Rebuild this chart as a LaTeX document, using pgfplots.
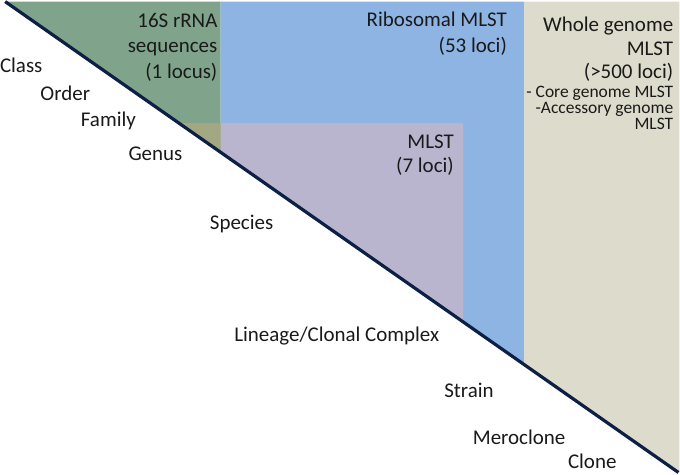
\documentclass[border=0pt]{standalone}
\usepackage{pgfplots}
\pgfplotsset{compat=1.18}
\usepackage{fontspec}
\setmainfont{Carlito}
\definecolor{cgreen}{HTML}{7FA38B}
\definecolor{cblue}{HTML}{8EB4E3}
\definecolor{cpurple}{HTML}{B9B5CF}
\definecolor{cbeige}{HTML}{DDDBCB}
\definecolor{colive}{HTML}{A3A882}
\definecolor{cline}{HTML}{0D1F45}
\definecolor{ctext}{HTML}{1A1A1A}
\tikzset{
  lbl/.style={font=\fontsize{21}{24}\selectfont, text=ctext, inner sep=0pt, text height=0.65em, text depth=0pt},
  sml/.style={font=\fontsize{17.5}{20}\selectfont, text=ctext, inner sep=0pt, text height=0.65em, text depth=0pt},
}
\begin{document}
\begin{tikzpicture}
\begin{axis}[
  width=680bp, height=477bp, scale only axis,
  xmin=0, xmax=680, ymin=0, ymax=477, y dir=reverse,
  hide axis, clip=false,
]
% regions
\addplot[fill=cgreen, draw=none] coordinates {(5,2) (220,2) (220,152.4)} -- cycle;
\addplot[fill=cblue, draw=none] coordinates {(220,2) (523,2) (523,364.3) (220,152.4)} -- cycle;
\addplot[fill=cpurple, draw=none] coordinates {(220,123) (462,123) (462,321.6) (220,152.4)} -- cycle;
\addplot[fill=colive, draw=none] coordinates {(178,123) (220,123) (220,152.4)} -- cycle;
\addplot[fill=cbeige, draw=none] coordinates {(523,2) (678,2) (678,472) (523,364.3)} -- cycle;
% diagonal
\addplot[draw=cline, line width=3.2bp] coordinates {(5,2) (677,472)};
% labels in regions
\node[lbl, anchor=east] at (axis cs:217,25) {16S rRNA};
\node[lbl, anchor=east] at (axis cs:217,50) {sequences};
\node[lbl, anchor=east] at (axis cs:217,76) {(1 locus)};
\node[lbl, anchor=east] at (axis cs:506,24) {Ribosomal MLST};
\node[lbl, anchor=east] at (axis cs:506,50) {(53 loci)};
\node[lbl, anchor=east] at (axis cs:453,145) {MLST};
\node[lbl, anchor=east] at (axis cs:453,169) {(7 loci)};
\node[lbl, anchor=east] at (axis cs:672,29) {Whole genome};
\node[lbl, anchor=east] at (axis cs:672,53) {MLST};
\node[lbl, anchor=east] at (axis cs:672,76) {(\textgreater500 loci)};
\node[sml, anchor=east] at (axis cs:672,94) {- Core genome MLST};
\node[sml, anchor=east] at (axis cs:672,110) {-Accessory genome};
\node[sml, anchor=east] at (axis cs:672,126) {MLST};
% taxonomy labels
\node[lbl] at (axis cs:21,70) {Class};
\node[lbl] at (axis cs:65,97) {Order};
\node[lbl] at (axis cs:108,123) {Family};
\node[lbl] at (axis cs:155,157) {Genus};
\node[lbl] at (axis cs:241,226) {Species};
\node[lbl] at (axis cs:336,338) {Lineage/Clonal Complex};
\node[lbl] at (axis cs:468,394) {Strain};
\node[lbl] at (axis cs:518,441) {Meroclone};
\node[lbl] at (axis cs:591,465) {Clone};
\end{axis}
\end{tikzpicture}
\end{document}
